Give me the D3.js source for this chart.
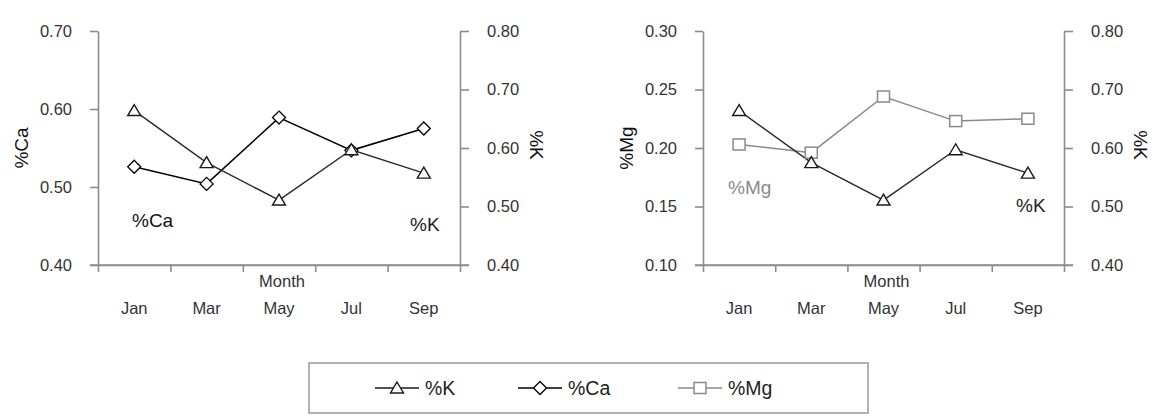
<!DOCTYPE html>
<html>
<head>
<meta charset="utf-8">
<script src="https://cdn.jsdelivr.net/npm/d3@7"></script>
<style>
  body { margin: 0; background: #fff; }
  text { font-family: "Liberation Sans", Arial, sans-serif; }
</style>
</head>
<body>
<div id="chart"></div>
<script>
// データ
const months = ["Jan", "Mar", "May", "Jul", "Sep"];
const kVals  = [0.664, 0.575, 0.511, 0.597, 0.557];
const caVals = [0.526, 0.504, 0.589, 0.547, 0.575];
const mgVals = [0.203, 0.196, 0.244, 0.223, 0.225];

const caTicks = [0.40, 0.50, 0.60, 0.70];
const mgTicks = [0.10, 0.15, 0.20, 0.25, 0.30];
const kTicks  = [0.40, 0.50, 0.60, 0.70, 0.80];

drawChart();

function drawChart() {
  const width = 1153, height = 419;
  const top = 31, bottom = 265;
  const axisGray = "#8c8c8c";

  const svg = d3.select("#chart").append("svg")
    .attr("width", width)
    .attr("height", height);

  // マーカー
  function marker(g, type, x, y, color) {
    if (type === "tri") {
      g.append("path")
        .attr("d", `M${x},${y - 6}L${x + 6.5},${y + 5}L${x - 6.5},${y + 5}Z`)
        .attr("fill", "#fff").attr("stroke", color).attr("stroke-width", 1.4);
    } else if (type === "dia") {
      g.append("path")
        .attr("d", `M${x},${y - 6.5}L${x + 6.5},${y}L${x},${y + 6.5}L${x - 6.5},${y}Z`)
        .attr("fill", "#fff").attr("stroke", color).attr("stroke-width", 1.3);
    } else {
      g.append("rect")
        .attr("x", x - 6).attr("y", y - 5.5).attr("width", 12).attr("height", 11)
        .attr("fill", "#fff").attr("stroke", color).attr("stroke-width", 1.5);
    }
  }

  function panel(cfg) {
    const g = svg.append("g");
    const x = d3.scaleBand().domain(months).range([cfg.x0, cfg.x1]);
    const xb = d3.scaleLinear().domain([0, months.length]).range([cfg.x0, cfg.x1]);
    const yL = d3.scaleLinear().domain(d3.extent(cfg.leftTicks)).range([bottom, top]);
    const yR = d3.scaleLinear().domain(d3.extent(kTicks)).range([bottom, top]);

    // 軸
    const fmt = d3.format(".2f");
    const ax = [
      g.append("g").attr("transform", `translate(${cfg.x0},0)`)
        .call(d3.axisLeft(yL).tickValues(cfg.leftTicks).tickFormat(fmt).tickSize(8).tickSizeOuter(0).tickPadding(18)),
      g.append("g").attr("transform", `translate(${cfg.x1},0)`)
        .call(d3.axisRight(yR).tickValues(kTicks).tickFormat(fmt).tickSize(9).tickSizeOuter(0).tickPadding(18)),
      g.append("g").attr("transform", `translate(0,${bottom})`)
        .call(d3.axisBottom(xb).tickValues(d3.range(months.length + 1)).tickFormat("").tickSize(7).tickSizeOuter(0))
    ];
    ax.forEach(a => {
      a.select(".domain").attr("stroke", axisGray).attr("stroke-width", 1.6);
      a.selectAll(".tick line").attr("stroke", axisGray).attr("stroke-width", 1.6);
      a.selectAll(".tick text").attr("fill", "#333").style("font-size", "16.5px");
    });
    // 左右の軸の下端を少し延長
    g.append("line").attr("x1", cfg.x0 - 8).attr("x2", cfg.x1 + 9)
      .attr("y1", bottom).attr("y2", bottom)
      .attr("stroke", axisGray).attr("stroke-width", 1.6);

    // 月ラベル
    g.selectAll(".mon").data(months).enter().append("text")
      .attr("x", d => x(d) + x.bandwidth() / 2)
      .attr("y", 308)
      .attr("dy", "0.35em")
      .attr("text-anchor", "middle")
      .attr("fill", "#333")
      .style("font-size", "16.5px")
      .text(d => d);

    g.append("text")
      .attr("x", (cfg.x0 + cfg.x1) / 2 + 3).attr("y", 281).attr("dy", "0.35em")
      .attr("text-anchor", "middle").attr("fill", "#333")
      .style("font-size", "16.5px").text("Month");

    // 軸タイトル
    g.append("text")
      .attr("transform", `translate(${cfg.x0 - 77},148) rotate(-90)`)
      .attr("dy", "0.35em").attr("text-anchor", "middle")
      .attr("fill", "#111").style("font-size", "19px").text(cfg.leftTitle);
    g.append("text")
      .attr("transform", `translate(${cfg.x1 + 77},145) rotate(90)`)
      .attr("dy", "0.35em").attr("text-anchor", "middle")
      .attr("fill", "#111").style("font-size", "19px").text("%K");

    // 線
    const cx = (d, i) => x(months[i]) + x.bandwidth() / 2;
    const lineL = d3.line().x(cx).y(d => yL(d));
    const lineR = d3.line().x(cx).y(d => yR(d));

    g.append("path").attr("d", lineL(cfg.leftVals))
      .attr("fill", "none").attr("stroke", cfg.leftColor).attr("stroke-width", 1.5);
    g.append("path").attr("d", lineR(kVals))
      .attr("fill", "none").attr("stroke", "#2a2a2a").attr("stroke-width", 1.4);

    cfg.leftVals.forEach((d, i) => marker(g, cfg.leftMarker, cx(d, i), yL(d), cfg.leftColor));
    kVals.forEach((d, i) => marker(g, "tri", cx(d, i), yR(d), "#1a1a1a"));

    // 系列ラベル
    g.append("text").attr("x", cfg.lblL[0]).attr("y", cfg.lblL[1]).attr("dy", "0.35em")
      .attr("fill", cfg.leftColor === "#000" ? "#111" : cfg.leftColor)
      .style("font-size", "19px").text(cfg.leftTitle);
    g.append("text").attr("x", cfg.lblK[0]).attr("y", cfg.lblK[1]).attr("dy", "0.35em")
      .attr("fill", "#222").style("font-size", "19px").text("%K");
  }

  panel({
    x0: 98, x1: 460,
    leftTicks: caTicks, leftVals: caVals, leftTitle: "%Ca",
    leftMarker: "dia", leftColor: "#000",
    lblL: [132, 220], lblK: [410, 224]
  });
  panel({
    x0: 703, x1: 1064,
    leftTicks: mgTicks, leftVals: mgVals, leftTitle: "%Mg",
    leftMarker: "sq", leftColor: "#8a8a8a",
    lblL: [728, 187], lblK: [1016, 205]
  });

  // 凡例
  const legend = [
    { name: "%K",  type: "tri", color: "#1a1a1a", x: 375 },
    { name: "%Ca", type: "dia", color: "#000",    x: 518 },
    { name: "%Mg", type: "sq",  color: "#8a8a8a", x: 678 }
  ];
  svg.append("rect")
    .attr("x", 309).attr("y", 363).attr("width", 559).attr("height", 50)
    .attr("fill", "none").attr("stroke", "#999").attr("stroke-width", 1.5);
  const lg = svg.append("g");
  legend.forEach(d => {
    lg.append("line").attr("x1", d.x).attr("x2", d.x + 44)
      .attr("y1", 388).attr("y2", 388)
      .attr("stroke", d.color).attr("stroke-width", 1.4);
    marker(lg, d.type, d.x + 22, 388, d.color);
    lg.append("text").attr("x", d.x + 50).attr("y", 388).attr("dy", "0.35em")
      .attr("fill", "#222").style("font-size", "19.5px").text(d.name);
  });
}
</script>
</body>
</html>
